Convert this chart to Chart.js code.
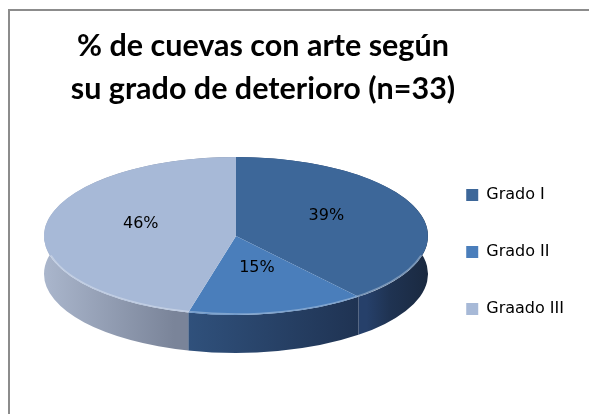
<!DOCTYPE html>
<html>
<head>
<meta charset="utf-8">
<script src="https://cdn.jsdelivr.net/npm/chart.js@4/dist/chart.umd.min.js"></script>
<style>
  html, body { margin: 0; padding: 0; background: #fff; overflow: hidden; }
  #wrap { position: relative; width: 589px; height: 414px; overflow: hidden; }
  #frame { position: absolute; left: 8px; top: 9px; width: 700px; height: 500px; border: 2px solid #8c8c8c; }
  #grafico { position: absolute; left: 0; top: 0; }
</style>
</head>
<body>
<div id="wrap">
  <div id="frame"></div>
  <canvas id="grafico" width="589" height="414"></canvas>
</div>
<script>
// datos
const categorias = ['Grado I', 'Grado II', 'Graado III'];
const porcentajes = [39, 15, 46];
const titulo = ['% de cuevas con arte según', 'su grado de deterioro (n=33)'];

// colores de la cara superior y del lateral
const coloresCara = ['#3d6799', '#4a7ebb', '#a7b9d7'];
const coloresLado = [
  [[0.84, '#26406a'], [0.9, '#1f3352'], [1, '#1a2940']],
  [[0.34, '#31537f'], [0.85, '#1e3150']],
  [[0, '#aab6cc'], [0.34, '#7a8499']]
];

// geometría de la tarta en pantalla
const PIE_X = 236, PIE_Y = 236, PIE_RX = 192, PIE_RY = 79, PIE_DEPTH = 38;
const LABEL_DY = -7;

const tarta3d = {
  id: 'tarta3d',
  beforeDatasetsDraw(chart) {
    const ctx = chart.ctx;
    const arcs = chart.getDatasetMeta(0).data;
    const { x: cx, y: cy, outerRadius: r } = arcs[0];
    const sx = PIE_RX / r, sy = PIE_RY / r;
    ctx.save();
    ctx.translate(PIE_X, PIE_Y);
    ctx.scale(sx, sy);
    ctx.translate(-cx, -cy);
    const dy = PIE_DEPTH / sy;
    arcs.forEach((arc, i) => {
      const g = ctx.createLinearGradient(cx - r, 0, cx + r, 0);
      coloresLado[i].forEach(([o, c]) => g.addColorStop(o, c));
      ctx.beginPath();
      ctx.arc(cx, cy, r, arc.startAngle, arc.endAngle);
      ctx.arc(cx, cy + dy, r, arc.endAngle, arc.startAngle, true);
      ctx.closePath();
      ctx.fillStyle = g;
      ctx.fill();
    });
  },
  afterDatasetsDraw(chart) {
    const ctx = chart.ctx;
    ctx.restore();
    const arcs = chart.getDatasetMeta(0).data;
    const { x: cx, y: cy, outerRadius: r } = arcs[0];
    const sx = PIE_RX / r, sy = PIE_RY / r;
    ctx.save();
    // brillo suave en el borde delantero
    ctx.beginPath();
    ctx.ellipse(PIE_X, PIE_Y, PIE_RX - 1, PIE_RY - 1, 0, 0.08 * Math.PI, 0.92 * Math.PI);
    ctx.strokeStyle = 'rgba(255,255,255,0.3)';
    ctx.lineWidth = 1.5;
    ctx.stroke();

    ctx.font = '16px "DejaVu Sans"';
    ctx.fillStyle = '#000';
    ctx.textAlign = 'center';
    ctx.textBaseline = 'middle';
    arcs.forEach((arc, i) => {
      const p = arc.getCenterPoint();
      const x = PIE_X + (p.x - cx) * sx;
      const y = PIE_Y + (p.y - cy) * sy + LABEL_DY;
      ctx.fillText(porcentajes[i] + '%', x, y);
    });
    ctx.restore();
  }
};

new Chart(document.getElementById('grafico'), {
  type: 'pie',
  data: {
    labels: categorias,
    datasets: [{
      data: porcentajes,
      backgroundColor: coloresCara,
      borderWidth: 0
    }]
  },
  options: {
    responsive: false,
    animation: false,
    events: [],
    layout: { padding: { left: -48, right: 15, top: 0, bottom: 32 } },
    plugins: {
      title: {
        display: true,
        text: titulo,
        color: '#000',
        font: { family: 'Lato', size: 30.5, weight: 'bold', lineHeight: 43 / 30.5 },
        padding: { top: 25, bottom: 11 }
      },
      legend: {
        position: 'right',
        fullSize: false,
        labels: {
          color: '#000',
          font: { family: 'DejaVu Sans', size: 16 },
          boxWidth: 12,
          boxHeight: 12,
          padding: 41
        }
      },
      tooltip: { enabled: false }
    }
  },
  plugins: [tarta3d]
});
</script>
</body>
</html>
